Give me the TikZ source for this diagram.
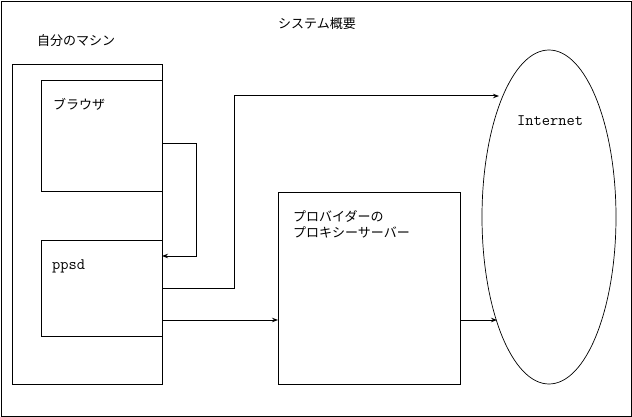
\documentclass[tikz,border=0pt]{standalone}
\usepackage{fontspec}
\newfontfamily\jp{Noto Sans CJK JP}
\usetikzlibrary{arrows.meta,shapes.geometric}
\begin{document}
\begin{tikzpicture}[x=1pt,y=-1pt,
  box/.style={draw,line width=1pt,inner sep=0pt,anchor=north west},
  jt/.style={anchor=west,inner sep=0pt,font=\jp\fontsize{13}{16}\selectfont},
  mt/.style={anchor=west,inner sep=0pt,font=\ttfamily\fontsize{16}{18}\selectfont},
  conn/.style={line width=1pt,-{Stealth[length=6pt,width=4.5pt]}}]
\useasboundingbox (0,0) rectangle (632,417);
\node[box,minimum width=630pt,minimum height=415pt] (frame) at (1,1) {};
\node[box,minimum width=150pt,minimum height=320pt] (machine) at (12,64) {};
\node[box,minimum width=121pt,minimum height=111pt] (browser) at (41,80) {};
\node[box,minimum width=121pt,minimum height=96pt] (ppsd) at (41,240) {};
\node[box,minimum width=182pt,minimum height=192pt] (proxy) at (278,192) {};
\node[draw,ellipse,line width=0.7pt,minimum width=134pt,minimum height=334pt,inner sep=0pt] (inet) at (549,217) {};
\node[jt] (title) at (278,24) {システム概要};
\node[jt] (lmach) at (37,41) {自分のマシン};
\node[jt] (lbrow) at (53,104) {ブラウザ};
\node[mt] (lppsd) at (52,266) {ppsd};
\node[jt,align=left] (lprox) at (293,224) {プロバイダーの\\プロキシーサーバー};
\node[mt] (linet) at (517,121) {Internet};
\coordinate (c1) at (162,144);
\coordinate (c2) at (162,256);
\coordinate (c3) at (162,288);
\coordinate (c4) at (162,320);
\coordinate (c5) at (460,320);
\coordinate (e1) at (499,96);
\coordinate (e2) at (497,320);
\draw[conn] (c1) -- (196,144) -- (196,256) -- (c2);
\draw[conn] (c3) -- (234,288) -- (234,96) -- (e1);
\draw[conn] (c4) -- (proxy.west |- c4);
\draw[conn] (c5) -- (e2);
\end{tikzpicture}
\end{document}
